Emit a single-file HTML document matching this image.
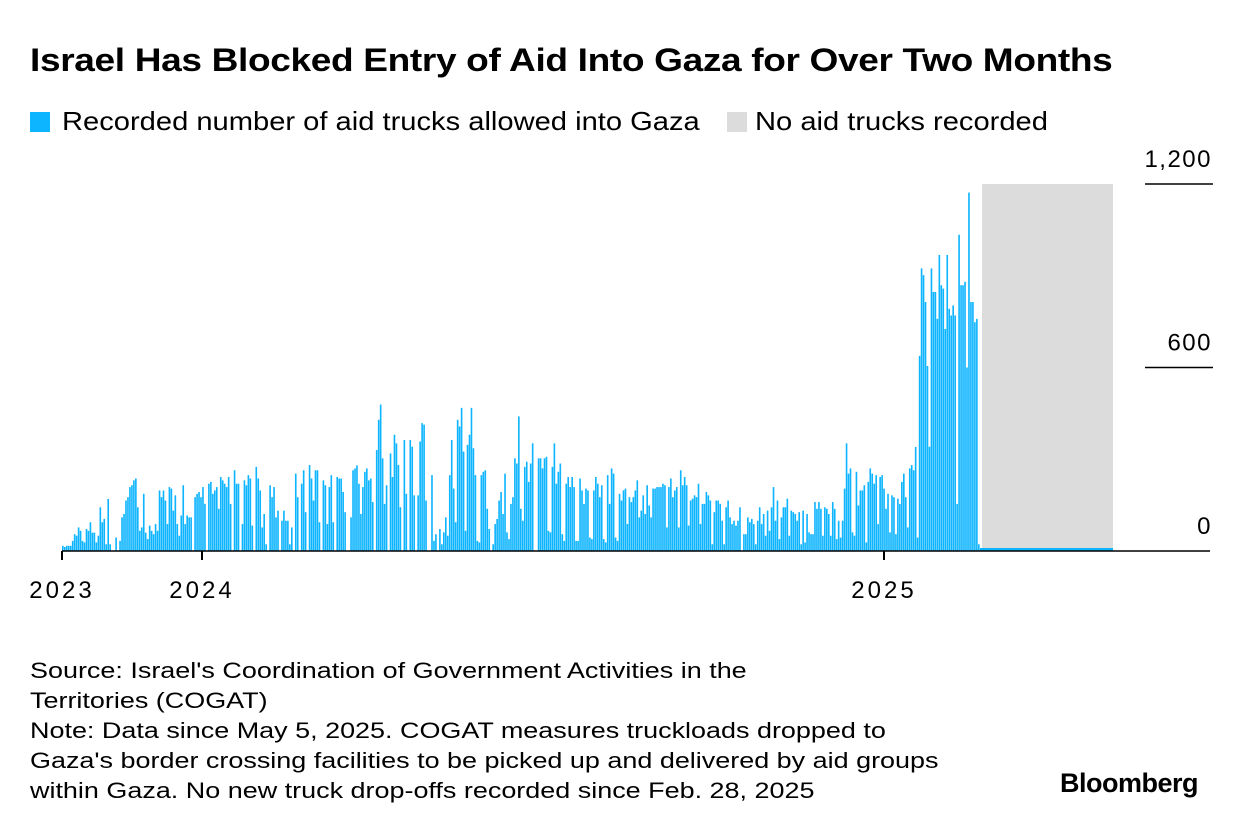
<!DOCTYPE html>
<html><head><meta charset="utf-8"><style>
body{margin:0;background:#fff;font-family:"Liberation Sans",sans-serif;color:#000}
#wrap{position:relative;width:1240px;height:830px;overflow:hidden}
.t{position:absolute;white-space:nowrap;transform-origin:0 0}
</style></head><body>
<div id="wrap">
<div class="t" style="left:30px;top:42px;font-size:32px;font-weight:bold;letter-spacing:-0.3px;transform:scaleX(1.158)">Israel Has Blocked Entry of Aid Into Gaza for Over Two Months</div>
<div class="t" style="left:30px;top:106px;font-size:26px"><span style="display:inline-block;width:20px;height:20px;background:#0db4ff;margin-right:12px;vertical-align:-2px"></span><span style="display:inline-block;transform:scaleX(1.12);transform-origin:0 0">Recorded number of aid trucks allowed into Gaza</span></div>
<div class="t" style="left:727px;top:106px;font-size:26px"><span style="display:inline-block;width:20px;height:20px;background:#dcdcdc;margin-right:8px;vertical-align:-2px"></span><span style="display:inline-block;transform:scaleX(1.12);transform-origin:0 0">No aid trucks recorded</span></div>
<svg id="chart" width="1240" height="620" style="position:absolute;left:0;top:0"></svg>
<div class="t" style="left:30px;top:656px;font-size:22px;line-height:30px;transform:scaleX(1.225)">Source: Israel's Coordination of Government Activities in the<br>Territories (COGAT)<br>Note: Data since May 5, 2025. COGAT measures truckloads dropped to<br>Gaza's border crossing facilities to be picked up and delivered by aid groups<br>within Gaza. No new truck drop-offs recorded since Feb. 28, 2025</div>
<div class="t" style="left:1060px;top:768px;font-size:27px;font-weight:bold;letter-spacing:-0.5px">Bloomberg</div>
</div>
<script>
const truckValues=[17,13,17,17,17,33,55,50,77,66,33,28,72,66,94,60,60,28,50,143,94,105,22,170,22,0,0,44,0,33,110,121,165,176,209,215,231,237,143,66,77,187,60,39,83,66,55,88,66,198,176,198,165,88,209,204,132,182,88,50,116,215,88,116,110,110,0,176,187,193,176,209,154,0,220,226,187,198,209,138,242,231,220,209,242,154,0,264,220,220,0,88,231,215,248,237,83,0,275,237,198,77,121,22,0,215,176,209,110,132,0,99,132,99,99,22,77,0,253,176,0,220,264,127,0,281,237,165,264,264,94,0,231,215,88,209,248,94,0,242,237,237,193,127,0,0,110,264,
270,280,220,121,209,259,270,231,237,160,0,330,429,479,303,154,215,0,319,242,380,352,281,143,0,363,187,0,363,341,182,0,182,358,418,413,165,0,0,248,33,55,0,72,22,61,110,50,248,363,204,94,429,407,468,325,66,347,380,468,336,248,33,28,248,259,264,138,72,0,22,88,105,165,193,121,253,61,39,154,176,303,286,440,138,99,275,292,226,286,352,0,0,303,303,270,303,308,66,61,275,352,220,259,286,55,33,220,242,209,242,209,33,33,237,198,154,204,198,44,39,198,242,220,176,215,39,28,248,154,270,253,44,33,187,165,198,204,88,176,160,176,198,231,110,132,182,121,215,149,110,204,204,
209,209,209,220,215,77,209,237,176,198,209,77,264,215,242,215,83,165,171,182,176,220,88,154,154,193,182,165,22,127,165,165,154,99,22,143,165,110,88,99,83,99,143,0,55,55,110,94,105,88,22,99,143,88,121,50,132,66,143,209,99,165,39,110,143,143,171,50,132,127,121,99,127,22,132,28,121,61,55,55,160,138,160,138,50,143,138,121,50,160,138,39,99,44,99,204,352,253,270,61,50,259,149,198,198,215,28,226,270,253,220,248,88,242,248,204,138,187,61,182,176,55,171,154,226,253,176,77,270,281,264,
340,44,638,924,902,814,605,341,924,847,847,759,968,869,858,726,968,792,770,803,770,154,1034,869,869,880,600,1172,814,814,748,759,22];
const yTicks=[0,600,1200];
const yTickLabels=["0","600","1,200"];
const xTickLabels=["2023","2024","2025"];
const noDataMax=1200;

const svg=document.getElementById('chart');
const NS='http://www.w3.org/2000/svg';
const X0=62,X1=980,Y0=551,YMAXPX=184,VMAX=1200;
const step=(X1-X0)/truckValues.length;
const y=v=>Y0-(v/VMAX)*(Y0-YMAXPX);
const x=i=>X0+i*step;
function mk(tag,attrs){const e=document.createElementNS(NS,tag);for(const k in attrs)e.setAttribute(k,attrs[k]);svg.appendChild(e);return e;}
const g=mk('rect',{x:982,y:y(noDataMax),width:131,height:Y0-y(noDataMax),fill:'#dcdcdc'});


truckValues.forEach((v,i)=>{
  if(v<=0)return;
  const r=mk('rect',{x:x(i).toFixed(2),y:y(v).toFixed(2),width:(step-0.35).toFixed(2),height:(Y0-y(v)).toFixed(2),fill:'#0db4ff'});
  
  
});
const bl=mk('rect',{x:980,y:548,width:133,height:3,fill:'#0db4ff'});


const ax=mk('line',{x1:X0,x2:1210,y1:Y0,y2:Y0,stroke:'#000','stroke-width':1.5});


yTicks.forEach((t,i)=>{
  if(t>0){const l=mk('line',{x1:1145,x2:1213,y1:y(t),y2:y(t),stroke:'#000','stroke-width':1.5});
  
  }
  const tx=mk('text',{x:1212,y:y(t)-17,'text-anchor':'end','font-size':24,'letter-spacing':1.5,'font-family':'Liberation Sans, sans-serif'});
  tx.textContent=yTickLabels[i];
  
  
});
xTickLabels.forEach((lab,i)=>{
  const px=i===2?884:(i===1?202:62);
  const l=mk('line',{x1:px,x2:px,y1:Y0,y2:Y0+9,stroke:'#000','stroke-width':2});
  
  
  const tx=mk('text',{x:px,y:598,'text-anchor':'middle','font-size':24,'letter-spacing':3,'font-family':'Liberation Sans, sans-serif'});
  tx.textContent=lab;
  
  
});
</script>
</body></html>
